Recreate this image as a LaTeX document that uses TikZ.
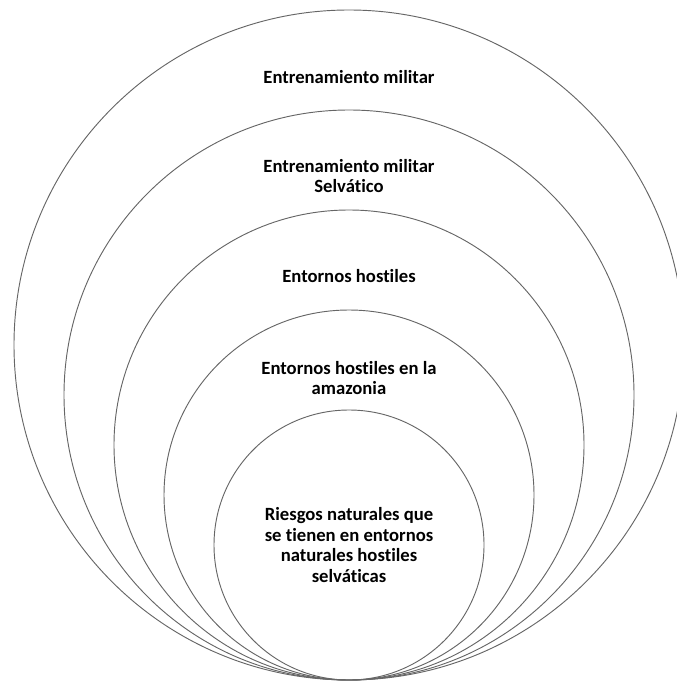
\documentclass[tikz,border=0pt]{standalone}
\usepackage{fontspec}
\setmainfont{Carlito}[Ligatures=NoCommon]
\begin{document}
\begin{tikzpicture}[x=0.75pt,y=-0.75pt,
  ring/.style={draw=black!60,line width=0.7pt},
  lbl/.style={font=\fontsize{14}{15.5}\selectfont\bfseries,align=center}]
\useasboundingbox (0,0) rectangle (676,681);
% nested circles, all touching at the bottom
\coordinate (base) at (349,680);
\foreach \r in {335,285,235,185,135}
  \draw[ring] (base) ++(0,-\r) circle[radius=\r*0.75pt];
\node[lbl] (mil) at (349,77) {Entrenamiento militar};
\node[lbl] (selva) at (349,176) {Entrenamiento militar\\Selvático};
\node[lbl] (host) at (349,276) {Entornos hostiles};
\node[lbl] (amaz) at (349,378) {Entornos hostiles en la\\amazonia};
\node[lbl] (riesg) at (349,545) {Riesgos naturales que\\se tienen en entornos\\naturales hostiles\\selváticas};
\end{tikzpicture}
\end{document}
